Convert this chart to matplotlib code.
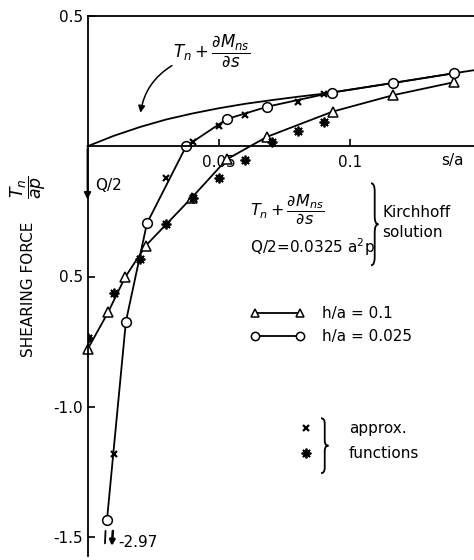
import matplotlib
matplotlib.use("Agg")
import matplotlib.pyplot as plt
from matplotlib.path import Path
from matplotlib.patches import PathPatch

# h/a = 0.1  (triangles)
tri_s = [0.0, 0.0078, 0.0143, 0.0222, 0.0397, 0.0530, 0.0682, 0.0932, 0.1162, 0.1394]
tri_t = [-0.78, -0.638, -0.503, -0.381, -0.197, -0.050, 0.036, 0.133, 0.196, 0.246]

# h/a = 0.025  (circles), last point is really -2.97 (broken axis)
circ_s = [0.0074, 0.0146, 0.0226, 0.0375, 0.0529, 0.0684, 0.0930, 0.1162, 0.1392]
circ_t = [-1.435, -0.673, -0.296, 0.0, 0.104, 0.152, 0.206, 0.243, 0.280]

# approx. functions
x_s = [0.01, 0.03, 0.04, 0.05, 0.06, 0.08, 0.09]
x_t = [-1.18, -0.123, 0.016, 0.077, 0.119, 0.170, 0.200]
star_s = [0.0, 0.01, 0.02, 0.03, 0.04, 0.05, 0.06, 0.07, 0.08, 0.09]
star_t = [-0.738, -0.562, -0.431, -0.300, -0.200, -0.123, -0.054, 0.015, 0.058, 0.092]

# Kirchhoff solution  Tn + dMns/ds
kir_s = [0.0, 0.01, 0.02, 0.03, 0.04, 0.05, 0.06, 0.07, 0.08, 0.09, 0.1162, 0.1392, 0.147]
kir_t = [0.0, 0.040, 0.074, 0.103, 0.126, 0.146, 0.163, 0.177, 0.190, 0.202, 0.243, 0.280, 0.292]

yticks = [0.5, -0.5, -1.0, -1.5]
ytick_labels = ["0.5", "0.5", "-1.0", "-1.5"]
xticks = [0.05, 0.1]
xtick_labels = ["0.05", "0.1"]


def curly_brace(ax, x, y_bot, y_top, width, lw=1.3):
    """Draw a '}' shaped brace opening to the left."""
    y_mid = (y_bot + y_top) / 2
    d = (y_top - y_bot) * 0.1
    h = x + width / 2
    verts = [(x, y_top), (h, y_top), (h, y_top - d),
             (h, y_mid + d),
             (h, y_mid), (x + width, y_mid),
             (h, y_mid), (h, y_mid - d),
             (h, y_bot + d),
             (h, y_bot), (x, y_bot)]
    codes = [Path.MOVETO, Path.CURVE3, Path.CURVE3, Path.LINETO,
             Path.CURVE3, Path.CURVE3, Path.CURVE3, Path.CURVE3,
             Path.LINETO, Path.CURVE3, Path.CURVE3]
    ax.add_patch(PathPatch(Path(verts, codes), fill=False, lw=lw, clip_on=False))


plt.rcParams["font.family"] = ["DejaVu Sans"]
plt.rcParams["mathtext.fontset"] = "dejavusans"

fig = plt.figure(figsize=(4.74, 5.60), dpi=100)
ax = fig.add_axes([87.5 / 474, 4 / 560, 1 - 87.5 / 474, 540 / 560])

ax.set_xlim(0, (474 - 87.5) / 2630)
ax.set_ylim(0.5 - 540 / 260.5, 0.5)

ax.spines["right"].set_visible(False)
ax.spines["bottom"].set_position(("data", 0))
for sp in ax.spines.values():
    sp.set_linewidth(1.3)

ax.set_yticks(yticks)
ax.set_yticklabels(ytick_labels)
ax.set_xticks(xticks)
ax.set_xticklabels(xtick_labels)
ax.tick_params(axis="both", direction="in", length=5, width=1.2, labelsize=11)
ax.tick_params(axis="x", pad=6)

line_kw = dict(color="black", lw=1.3, clip_on=False)
ax.plot(kir_s, kir_t, **line_kw)
tri_line, = ax.plot(tri_s, tri_t, marker="^", ms=7.5, mfc="white", mec="black", mew=1.1, **line_kw)
circ_line, = ax.plot(circ_s, circ_t, marker="o", ms=7, mfc="white", mec="black", mew=1.1, **line_kw)
x_pts, = ax.plot(x_s, x_t, ls="none", marker="x", ms=5, mew=1.6, color="black")
star_pts, = ax.plot(star_s, star_t, ls="none", marker=(8, 2, 0), ms=7, mew=1.3, color="black")

# legends
leg1 = fig.legend([tri_line, circ_line], ["h/a = 0.1", "h/a = 0.025"],
                  loc="upper left", bbox_to_anchor=(250 / 474, 1 - 306 / 560),
                  frameon=False, numpoints=2, handlelength=3.6, handletextpad=1.1,
                  labelspacing=0.55, borderpad=0, borderaxespad=0, fontsize=11,
                  markerscale=0.85)
leg2 = fig.legend([x_pts, star_pts], ["approx.", "functions"],
                  loc="upper left", bbox_to_anchor=(300 / 474, 1 - 421 / 560),
                  frameon=False, numpoints=1, handlelength=0.8, handletextpad=2.4,
                  labelspacing=0.65, borderpad=0, borderaxespad=0, fontsize=11)
curly_brace(ax, 0.0888, -1.255, -1.044, 0.0028)

# Kirchhoff label at top with curved arrow
ax.text(0.0325, 0.368, r"$T_n + \dfrac{\partial M_{ns}}{\partial s}$", fontsize=12,
        va="center", ha="left")
ax.annotate("", xy=(0.0200, 0.118), xytext=(0.0330, 0.315),
            arrowprops=dict(arrowstyle="-|>", color="black", lw=1.1,
                            connectionstyle="arc3,rad=0.25", mutation_scale=10))

# Kirchhoff solution block
ax.text(0.0618, -0.242, r"$T_n + \dfrac{\partial M_{ns}}{\partial s}$", fontsize=11.5,
        va="center", ha="left")
ax.text(0.0618, -0.388, r"Q/2=0.0325 a$^2$p", fontsize=11, va="center", ha="left")
curly_brace(ax, 0.1078, -0.457, -0.142, 0.0028)
ax.text(0.1120, -0.253, "Kirchhoff", fontsize=11, va="center", ha="left")
ax.text(0.1120, -0.330, "solution", fontsize=11, va="center", ha="left")

# Q/2 corner force
ax.annotate("", xy=(0, -0.215), xytext=(0, 0),
            arrowprops=dict(arrowstyle="-|>", color="black", lw=1.3, mutation_scale=10))
ax.text(0.003, -0.15, "Q/2", fontsize=11, va="center", ha="left")

# s/a label
ax.text(0.1386, -0.054, "s/a", fontsize=11, va="center", ha="center")

# broken value of the last circle
ax.annotate("", xy=(0.0066, -1.535), xytext=(0.0069, -1.466),
            arrowprops=dict(arrowstyle="-", color="black", lw=1.3))
ax.annotate("", xy=(0.0092, -1.545), xytext=(0.0097, -1.466),
            arrowprops=dict(arrowstyle="-|>", color="black", lw=1.8, mutation_scale=8))
ax.text(0.0116, -1.52, "-2.97", fontsize=11, va="center", ha="left")

# y label
fig.text(29 / 474, 1 - 289 / 560, "SHEARING FORCE", rotation=90, fontsize=11,
         va="center", ha="center")
fig.text(28 / 474, 1 - 187 / 560, r"$\dfrac{T_n}{ap}$", rotation=90, fontsize=12.5,
         va="center", ha="center")

fig.savefig("out.png", dpi=100)
